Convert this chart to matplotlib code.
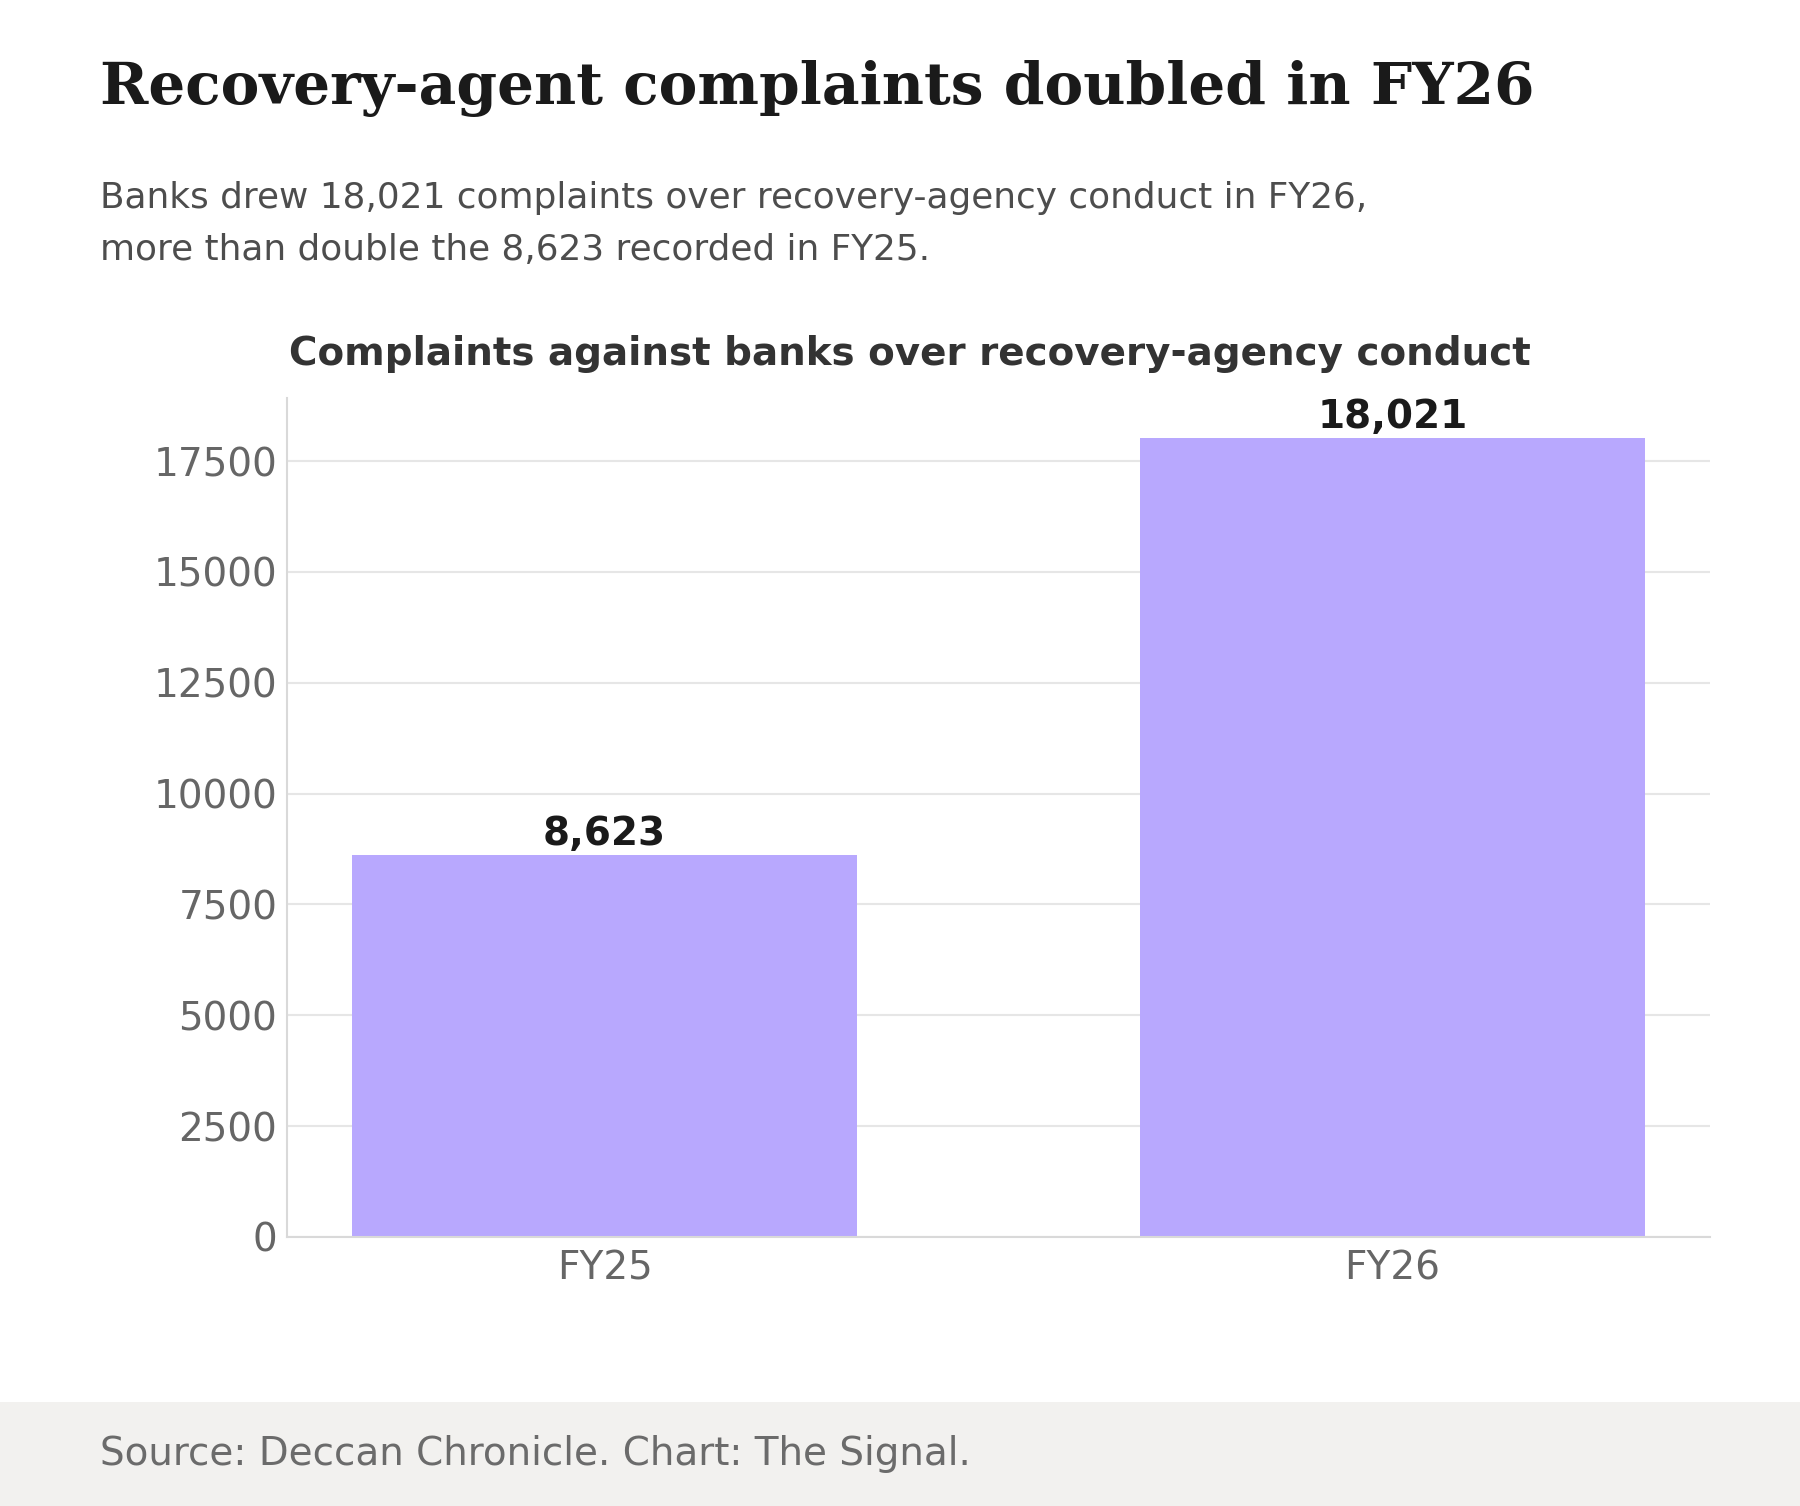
import matplotlib.pyplot as plt
from matplotlib.patches import Rectangle

# data
years = ['FY25', 'FY26']
complaints = [8623, 18021]
yticks = [0, 2500, 5000, 7500, 10000, 12500, 15000, 17500]

bar_color = '#b8a8fe'

fig = plt.figure(figsize=(18, 15.06), dpi=100)
fig.patch.set_facecolor('white')

# footer band
fig.patches.append(Rectangle((0, 0), 1, 104 / 1506, transform=fig.transFigure,
                             facecolor='#f2f1ef', edgecolor='none', zorder=0))

# titles
fig.text(100 / 1800, 1 - 104 / 1506, 'Recovery-agent complaints doubled in FY26',
         family='DejaVu Serif', weight='bold', fontsize=41.9, color='#1a1a1a',
         va='baseline', ha='left')
fig.text(100 / 1800, 1 - 208 / 1506,
         'Banks drew 18,021 complaints over recovery-agency conduct in FY26,',
         fontsize=25.8, color='#4d4d4d', va='baseline', ha='left')
fig.text(100 / 1800, 1 - 260 / 1506,
         'more than double the 8,623 recorded in FY25.',
         fontsize=25.8, color='#4d4d4d', va='baseline', ha='left')
fig.text(100 / 1800, 1 - 1465 / 1506, 'Source: Deccan Chronicle. Chart: The Signal.',
         fontsize=28, color='#6b6b6b', va='baseline', ha='left')

ax = fig.add_axes([287 / 1800, 1 - 1237 / 1506, 1423 / 1800, 839 / 1506])
fig.text(289 / 1800, 1 - 365 / 1506, 'Complaints against banks over recovery-agency conduct',
         fontsize=28, weight='bold', color='#333333', va='baseline', ha='left')

x = range(len(years))
bars = ax.bar(x, complaints, width=0.64, color=bar_color, zorder=2)

# value labels
for b, v in zip(bars, complaints):
    ax.annotate(f'{v:,}', (b.get_x() + b.get_width() / 2, v),
                xytext=(0, 1.5), textcoords='offset points',
                ha='center', va='bottom', fontsize=28, weight='bold', color='#1a1a1a')

ax.set_xlim(-0.403, 1.403)
ax.set_ylim(0, max(complaints) * 1.05)
ax.set_xticks(list(x))
ax.set_xticklabels(years)
ax.set_yticks(yticks)
ax.tick_params(axis='both', length=0, labelsize=28, labelcolor='#666666')
ax.tick_params(axis='x', pad=9)
ax.tick_params(axis='y', pad=7)

ax.grid(axis='y', color='#e6e6e6', linewidth=1.5, zorder=0)
ax.set_axisbelow(True)
for side in ['top', 'right']:
    ax.spines[side].set_visible(False)
for side in ['left', 'bottom']:
    ax.spines[side].set_color('#d9d9d9')
    ax.spines[side].set_linewidth(1.5)

fig.savefig('out.png', dpi=100)
